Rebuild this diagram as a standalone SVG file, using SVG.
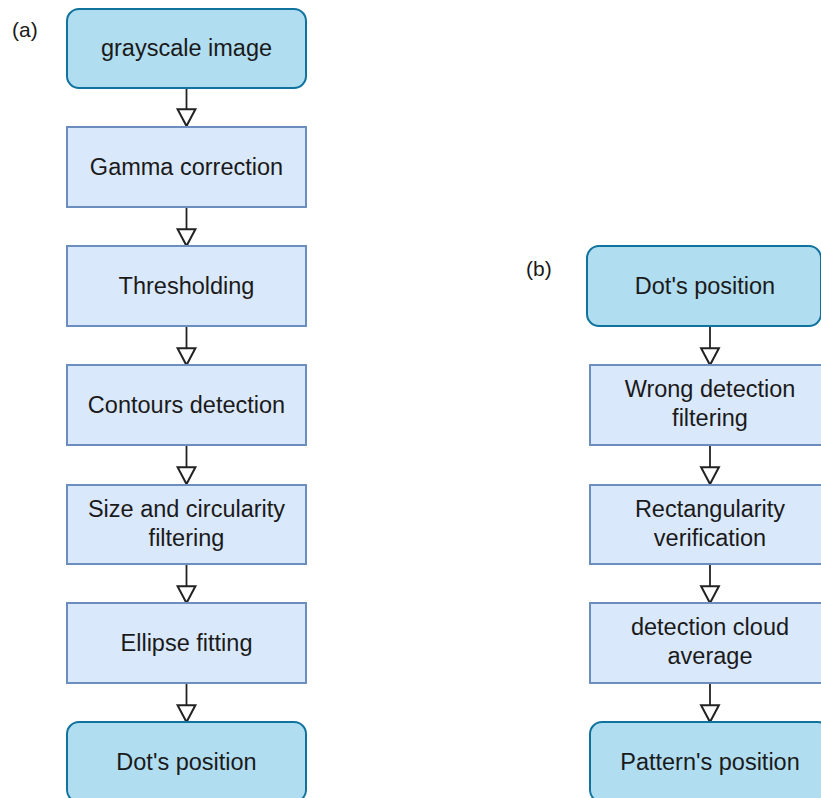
<svg xmlns="http://www.w3.org/2000/svg" width="821" height="798" viewBox="0 0 821 798">
<style>
.bg{fill:#ffffff}
.term{fill:#b1ddf0;stroke:#10739e;stroke-width:2}
.proc{fill:#dae8fc;stroke:#6c8ebf;stroke-width:2}
text{font-family:"Liberation Sans",Arial,sans-serif;font-size:23.5px;fill:#1a1a1a;text-anchor:middle}
.lbl{font-size:21px;text-anchor:start}
.edge{stroke:#222;stroke-width:1.8;fill:none;marker-end:url(#arr)}
</style>
<defs>
<marker id="arr" markerUnits="userSpaceOnUse" markerWidth="20" markerHeight="20" viewBox="-1 -1 18 18" refX="15" refY="8" orient="auto" overflow="visible">
<path d="M0,0 L15,8 L0,16 Z" fill="#ffffff" stroke="#222" stroke-width="1.8" stroke-linejoin="miter"/>
</marker>
</defs>
<rect class="bg" x="0" y="0" width="821" height="798"/>
<text class="lbl" x="12" y="37">(a)</text>
<text class="lbl" x="526" y="276">(b)</text>
<g id="connectors">
<line class="edge" x1="186.5" y1="88" x2="186.5" y2="126"/>
<line class="edge" x1="186.5" y1="207" x2="186.5" y2="246"/>
<line class="edge" x1="186.5" y1="326" x2="186.5" y2="365"/>
<line class="edge" x1="186.5" y1="445" x2="186.5" y2="484"/>
<line class="edge" x1="186.5" y1="564" x2="186.5" y2="603"/>
<line class="edge" x1="186.5" y1="683" x2="186.5" y2="722"/>
<line class="edge" x1="710" y1="327" x2="710" y2="365"/>
<line class="edge" x1="710" y1="445" x2="710" y2="484"/>
<line class="edge" x1="710" y1="564" x2="710" y2="603"/>
<line class="edge" x1="710" y1="683" x2="710" y2="722"/>
</g>
<g id="a-grayscale"><rect class="term" x="67" y="9" width="239" height="79" rx="12"/><text x="186.5" y="56">grayscale image</text></g>
<g id="a-gamma"><rect class="proc" x="67" y="127" width="239" height="80"/><text x="186.5" y="175">Gamma correction</text></g>
<g id="a-threshold"><rect class="proc" x="67" y="246" width="239" height="80"/><text x="186.5" y="294">Thresholding</text></g>
<g id="a-contours"><rect class="proc" x="67" y="365" width="239" height="80"/><text x="186.5" y="413">Contours detection</text></g>
<g id="a-size"><rect class="proc" x="67" y="485" width="239" height="79"/><text x="186.5" y="517">Size and circularity</text><text x="186.5" y="546">filtering</text></g>
<g id="a-ellipse"><rect class="proc" x="67" y="603" width="239" height="80"/><text x="186.5" y="651">Ellipse fitting</text></g>
<g id="a-dot"><rect class="term" x="67" y="722" width="239" height="80" rx="12"/><text x="186.5" y="770">Dot's position</text></g>
<g id="b-dot"><rect class="term" x="587" y="246" width="234" height="80" rx="12"/><text x="705" y="294">Dot's position</text></g>
<g id="b-wrong"><rect class="proc" x="590" y="365" width="240" height="80"/><text x="710" y="397">Wrong detection</text><text x="710" y="426">filtering</text></g>
<g id="b-rect"><rect class="proc" x="590" y="485" width="240" height="79"/><text x="710" y="517">Rectangularity</text><text x="710" y="546">verification</text></g>
<g id="b-cloud"><rect class="proc" x="590" y="603" width="240" height="80"/><text x="710" y="635">detection cloud</text><text x="710" y="664">average</text></g>
<g id="b-pattern"><rect class="term" x="590" y="722" width="240" height="80" rx="12"/><text x="710" y="770">Pattern's position</text></g>
</svg>
